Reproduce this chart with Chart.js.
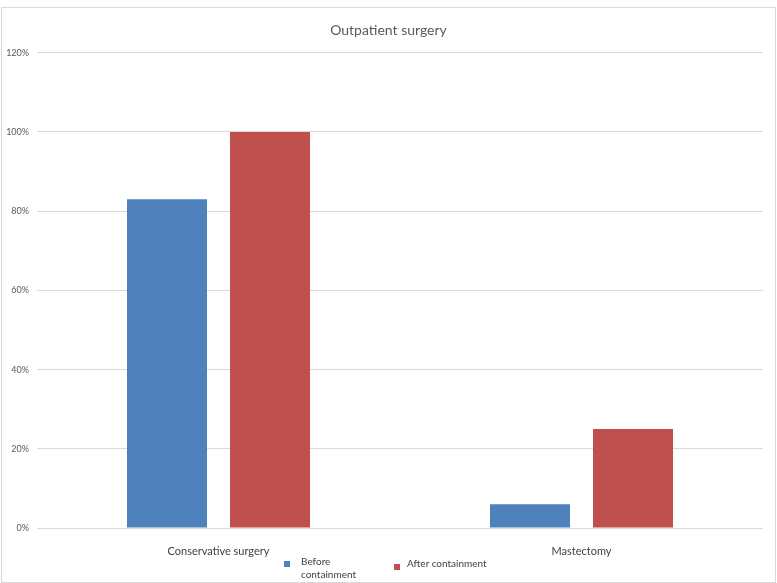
<!DOCTYPE html>
<html>
<head>
<meta charset="utf-8">
<script src="https://cdn.jsdelivr.net/npm/chart.js@4.4.1/dist/chart.umd.min.js"></script>
<style>
  html, body { margin: 0; padding: 0; background: #fff; }
  #wrap { position: relative; width: 777px; height: 583px; }
  #frame { position: absolute; left: 1px; top: 7px; width: 773px; height: 574px; border: 1px solid #d9d9d9; pointer-events: none; }
  .leg { position: absolute; font-family: Lato, "Open Sans", sans-serif; font-size: 10px; color: #404040; line-height: 13px; }
  .leg i { position: absolute; width: 6px; height: 6px; }
</style>
</head>
<body>
<div id="wrap">
  <canvas id="grafico" width="777" height="583"></canvas>
  <div id="frame"></div>
</div>
<script>
const categorias = ['Conservative surgery', 'Mastectomy'];
const series = ['Before containment', 'After containment'];
const antes = [83, 6];
const depois = [100, 25];
const cores = ['#4f81bd', '#c0504d'];
const ticksY = [0, 20, 40, 60, 80, 100, 120];

const ctx = document.getElementById('grafico').getContext('2d');

// o titulo do original fica centrado na largura toda, nao na area com padding
const centraTitulo = {
  id: 'centraTitulo',
  afterLayout(c) {
    if (c.titleBlock) { c.titleBlock.left += 7; c.titleBlock.right += 7; }
  }
};

const chart = new Chart(ctx, {
  type: 'bar',
  data: {
    labels: categorias,
    datasets: [
      { label: series[0], data: antes, backgroundColor: cores[0], borderWidth: 0 },
      { label: series[1], data: depois, backgroundColor: cores[1], borderWidth: 0 }
    ]
  },
  options: {
    responsive: false,
    animation: false,
    categoryPercentage: 0.5675,
    barPercentage: 0.777,
    layout: { padding: { left: 0, right: 14, top: 0, bottom: 0 } },
    plugins: {
      legend: { display: false },
      tooltip: { enabled: false },
      title: {
        display: true,
        text: 'Outpatient surgery',
        color: '#595959',
        font: { family: 'Lato', size: 14, weight: 'normal' },
        padding: { top: 22, bottom: 14 }
      }
    },
    scales: {
      x: {
        grid: { display: false },
        border: { display: false },
        ticks: { color: '#404040', font: { family: 'Lato', size: 11 }, padding: 9, maxRotation: 0 },
        afterFit: s => { s.height = 55; }
      },
      y: {
        min: 0,
        max: 120,
        afterBuildTicks: s => { s.ticks = ticksY.map(v => ({ value: v })); },
        grid: { color: '#d9d9d9', drawTicks: false },
        border: { display: false },
        ticks: { color: '#595959', font: { family: 'Lato', size: 9 }, padding: 8, callback: v => v + '%' },
        afterFit: s => { s.width = 37; }
      }
    }
  },
  plugins: [centraTitulo]
});

// legenda em html (o texto quebra em duas linhas como no original)
const posLegenda = [
  { x: 284, y: 555, box: 6, gap: 17, w: 70 },
  { x: 394, y: 557, box: 7, gap: 13, w: 120 }
];
series.forEach((nome, i) => {
  const p = posLegenda[i];
  const d = document.createElement('div');
  d.className = 'leg';
  d.style.left = (p.x + p.gap) + 'px';
  d.style.top = p.y + 'px';
  d.style.width = p.w + 'px';
  d.textContent = nome;
  const q = document.createElement('i');
  q.style.background = cores[i];
  q.style.left = (-p.gap) + 'px';
  q.style.top = p.box + 'px';
  d.appendChild(q);
  document.getElementById('wrap').appendChild(d);
});
</script>
</body>
</html>
